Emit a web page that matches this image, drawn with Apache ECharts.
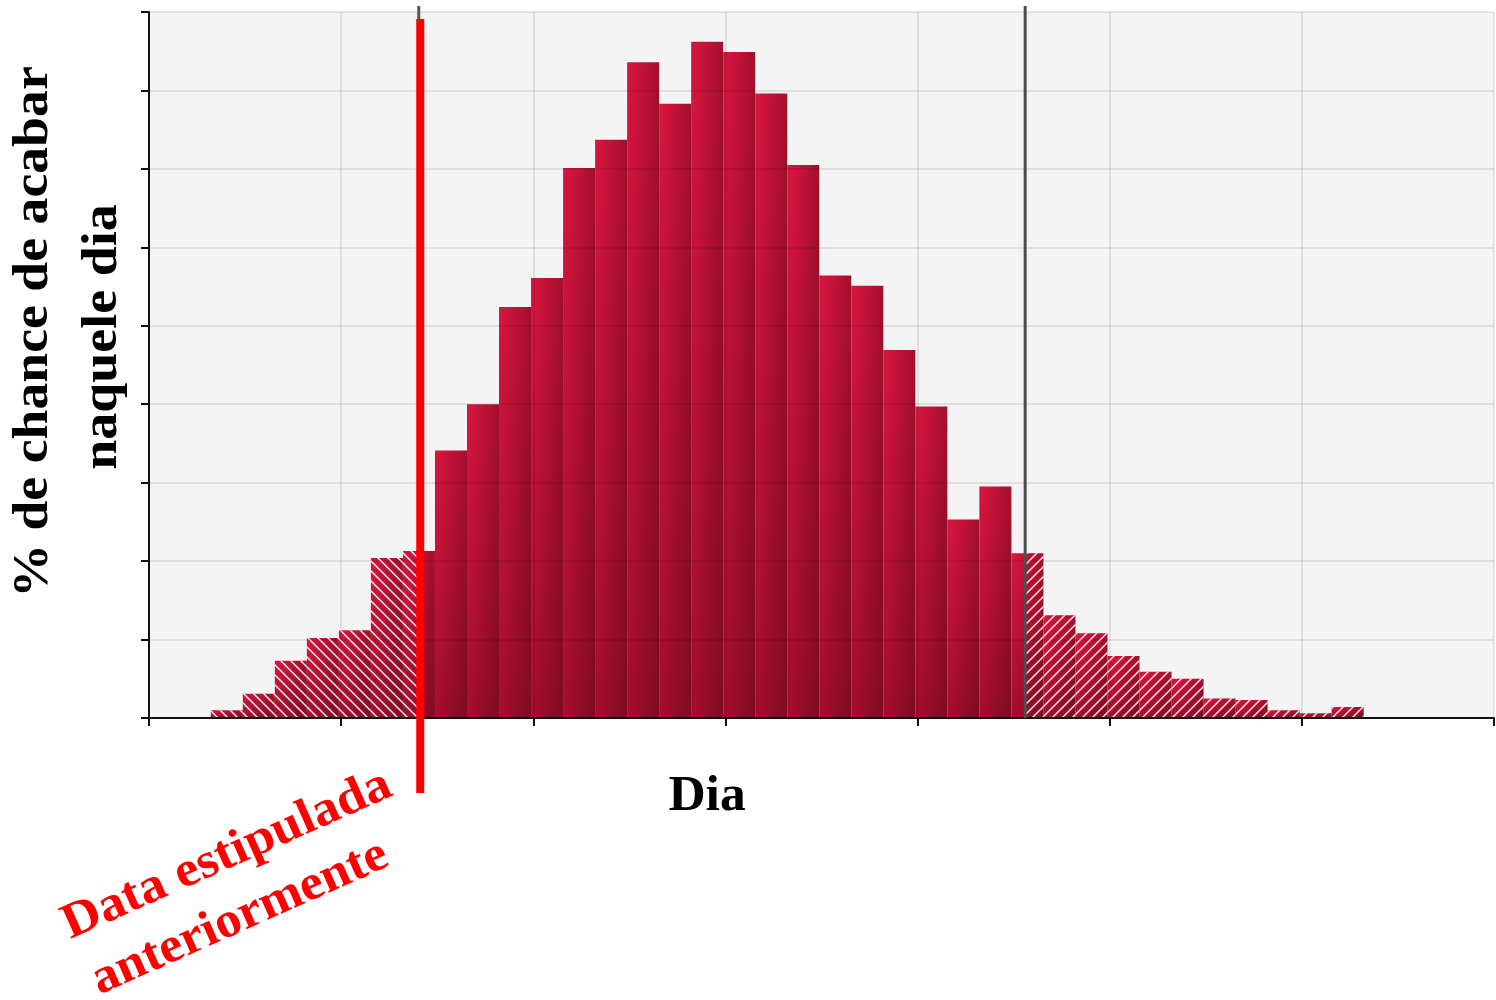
<!DOCTYPE html>
<html>
<head>
<meta charset="utf-8">
<script src="https://cdn.jsdelivr.net/npm/echarts@6/dist/echarts.min.js"></script>
<style>
html,body{margin:0;padding:0;background:#ffffff;}
#chart{width:1496px;height:1000px;}
</style>
</head>
<body>
<div id="chart"></div>
<script>
// ---- data ----
const chance = [0.10,0.31,0.73,1.02,1.12,2.04,2.13,3.41,4.00,5.24,5.61,7.01,7.37,8.36,7.83,8.62,8.49,7.96,7.05,5.64,5.51,4.69,3.97,2.53,2.95,2.10,1.31,1.08,0.79,0.59,0.50,0.25,0.23,0.10,0.06,0.14];
const firstDay = 1.93;          // start of first one-day bin
const binWidth = 1;             // one day per bar
const stipulatedDay = 8.47;     // "Data estipulada anteriormente"
const markerDay = 27.36;        // black reference line
const dayMin = 0, dayMax = 42, dayStep = 6;
const yMin = 0, yMax = 9, yStep = 1;
const yTitleLines = ['% de chance de acabar', 'naquele dia'];
const xTitle = 'Dia';
const noteLines = ['Data estipulada', 'anteriormente'];

const barData = chance.map((v, i) => [firstDay + i * binWidth, v]);

// ---- hatch patterns ----
function makeHatch(dir) {
  const s = 10;
  const c = document.createElement('canvas');
  c.width = s; c.height = s;
  const g = c.getContext('2d');
  g.strokeStyle = 'rgba(255,255,255,0.9)';
  g.lineWidth = 1.5;
  g.beginPath();
  if (dir === 'back') {          // "\"
    for (const k of [-s, 0, s]) { g.moveTo(-2 + k, -2); g.lineTo(s + 2 + k, s + 2); }
  } else {                       // "/"
    for (const k of [-s, 0, s]) { g.moveTo(-2 + k, s + 2); g.lineTo(s + 2 + k, -2); }
  }
  g.stroke();
  return c;
}
const patBack = makeHatch('back');
const patFwd = makeHatch('fwd');

function renderBar(params, api) {
  const a0 = api.value(0), v = api.value(1), a1 = a0 + binWidth;
  const cuts = [a0];
  [stipulatedDay, markerDay].forEach(c => { if (c > a0 && c < a1) cuts.push(c); });
  cuts.push(a1);
  const p0 = api.coord([a0, v]), p1 = api.coord([a1, 0]);
  const top = p0[1], bottom = p1[1];
  const shape = { x: p0[0], y: top, width: p1[0] - p0[0], height: bottom - top };
  const hGrad = new echarts.graphic.LinearGradient(p0[0], 0, p1[0], 0,
    [{ offset: 0, color: '#d8163e' }, { offset: 0.35, color: '#c91339' }, { offset: 1, color: '#a30f2e' }], true);
  const vGrad = new echarts.graphic.LinearGradient(0, top, 0, bottom,
    [{ offset: 0, color: 'rgba(40,0,8,0)' }, { offset: 1, color: 'rgba(40,0,8,0.3)' }], true);
  const children = [
    { type: 'rect', shape: shape, style: { fill: hGrad } },
    { type: 'rect', shape: shape, style: { fill: vGrad } }
  ];
  for (let k = 0; k < cuts.length - 1; k++) {
    const s = cuts[k], e = cuts[k + 1];
    let pat = null;
    if (e <= stipulatedDay + 1e-9) pat = patBack;
    else if (s >= markerDay - 1e-9) pat = patFwd;
    if (pat) {
      const q0 = api.coord([s, v]), q1 = api.coord([e, 0]);
      children.push({ type: 'rect', shape: { x: q0[0], y: q0[1], width: q1[0] - q0[0], height: q1[1] - q0[1] },
        style: { fill: { image: pat, repeat: 'repeat' } } });
    }
  }
  return { type: 'group', children: children };
}

function renderStipulated(params, api) {
  const cs = params.coordSys;
  const x = api.coord([api.value(0), 0])[0];
  return { type: 'group', children: [
    { type: 'line', shape: { x1: x - 1.5, y1: cs.y - 6, x2: x - 1.5, y2: cs.y + cs.height }, style: { stroke: '#555555', lineWidth: 3 } },
    { type: 'rect', shape: { x: x - 4, y: cs.y + 7, width: 8, height: cs.height + 68 }, style: { fill: '#ff0000' } }
  ]};
}
function renderMarker(params, api) {
  const cs = params.coordSys;
  const x = api.coord([api.value(0), 0])[0];
  return { type: 'line', shape: { x1: x, y1: cs.y - 6, x2: x, y2: cs.y + cs.height }, style: { stroke: '#4d4d4d', lineWidth: 3 } };
}

const serif = '"Liberation Serif", "Times New Roman", serif';
function txt(text, x, y, rot, size, color, stretch) {
  return { type: 'text', x: x, y: y, rotation: rot, scaleX: stretch, scaleY: 1, z: 10,
    style: { text: text, fontFamily: serif, fontWeight: 'bold', fontSize: size, fill: color,
      align: 'center', verticalAlign: 'middle', textAlign: 'center', textVerticalAlign: 'middle' } };
}
const noteRot = 24 * Math.PI / 180;

const chart = echarts.init(document.getElementById('chart'), null, { renderer: 'canvas' });
chart.setOption({
  animation: false,
  backgroundColor: '#ffffff',
  grid: { left: 149, right: 2, top: 12, bottom: 282, show: true, backgroundColor: '#f4f4f4', borderWidth: 0, z: 0 },
  xAxis: {
    type: 'value', min: dayMin, max: dayMax, interval: dayStep, z: 2,
    axisLine: { show: true, onZero: false, lineStyle: { color: '#111111', width: 2 } },
    axisTick: { show: true, length: 8, lineStyle: { color: '#111111', width: 2 } },
    axisLabel: { show: false },
    splitLine: { show: true, lineStyle: { color: 'rgba(0,0,0,0.11)', width: 1.5 } }
  },
  yAxis: {
    type: 'value', min: yMin, max: yMax, interval: yStep, z: 2,
    axisLine: { show: true, lineStyle: { color: '#111111', width: 2 } },
    axisTick: { show: true, length: 8, lineStyle: { color: '#111111', width: 2 } },
    axisLabel: { show: false },
    splitLine: { show: true, lineStyle: { color: 'rgba(0,0,0,0.11)', width: 1.5 } }
  },
  series: [
    { type: 'custom', name: 'chance', z: 1, clip: false, renderItem: renderBar, data: barData, encode: { x: 0, y: 1 } },
    { type: 'custom', name: 'marcador', z: 3, clip: false, renderItem: renderMarker, data: [[markerDay, 0]], encode: { x: 0, y: 1 } },
    { type: 'custom', name: 'estipulada', z: 4, clip: false, renderItem: renderStipulated, data: [[stipulatedDay, 0]], encode: { x: 0, y: 1 } }
  ],
  graphic: [
    txt(yTitleLines[0], 34, 332, Math.PI / 2, 50, '#000000', 1.075),
    txt(yTitleLines[1], 103, 337, Math.PI / 2, 50, '#000000', 1.08),
    txt(xTitle, 707, 797, 0, 50, '#000000', 1.03),
    txt(noteLines[0], 227, 855, noteRot, 50, '#ff0000', 1.06),
    txt(noteLines[1], 240, 918, noteRot, 50, '#ff0000', 1.045)
  ]
});
</script>
</body>
</html>
